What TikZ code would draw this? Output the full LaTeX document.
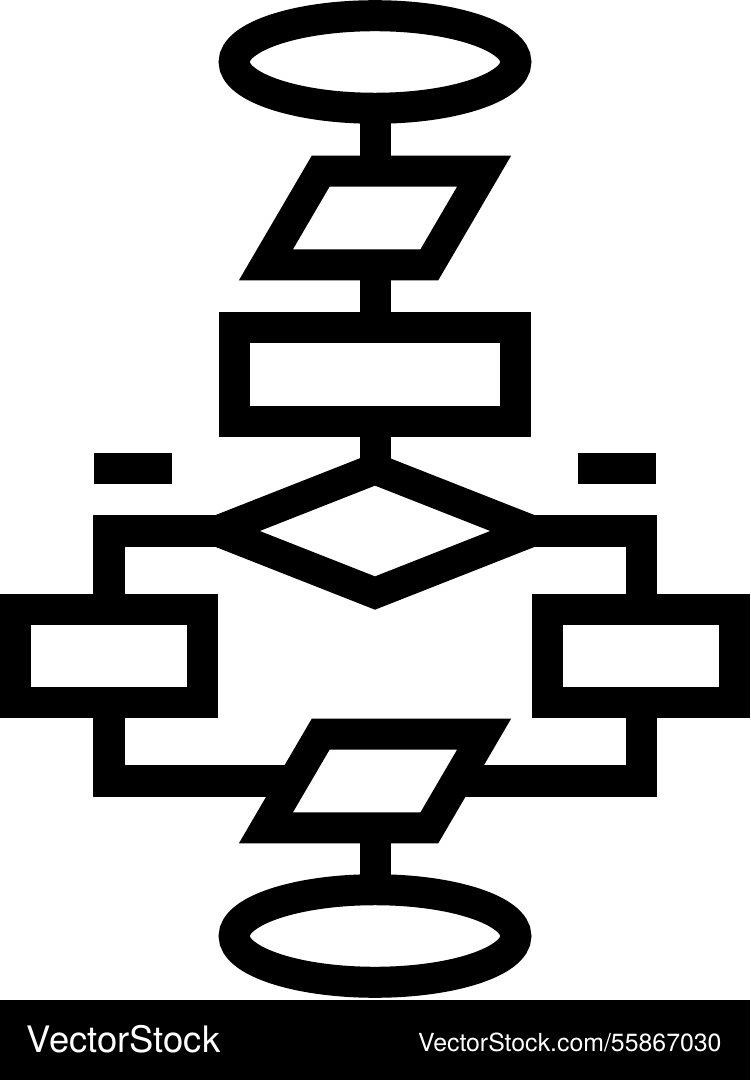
\documentclass[tikz,border=0pt]{standalone}
\usepackage{fontspec}
\newfontfamily\wmfont{TeX Gyre Heros}
\usetikzlibrary{shapes.geometric}

\begin{document}
\begin{tikzpicture}[x=0.01cm, y=-0.01cm, line width=0.31cm,
  every node/.style={inner sep=0pt, outer sep=0pt},
  terminal/.style={draw, ellipse, minimum width=2.815cm, minimum height=0.925cm},
  io/.style={draw, trapezium, trapezium left angle=63.3, trapezium right angle=116.7,
    trapezium stretches=true, inner sep=1pt, minimum width=2.18cm, minimum height=0.935cm},
  process/.style={draw, rectangle, minimum width=2.815cm, minimum height=0.94cm},
  decision/.style={draw, diamond, minimum width=3.15cm, minimum height=1.24cm},
  branch/.style={draw, rectangle, minimum width=1.875cm, minimum height=0.93cm},
  answer/.style={fill, minimum width=0.78cm, minimum height=0.31cm}]
  \useasboundingbox (0,0) rectangle (750,1080);

  \node[terminal] (start) at (375,62) {};
  \node[io] (input) at (375,218) {};
  \node[process] (task) at (375,374.5) {};
  \node[decision] (check) at (375,531) {};
  \node[answer] (markA) at (133,468.5) {};
  \node[answer] (markB) at (617,468.5) {};
  \node[branch] (optA) at (109,656) {};
  \node[branch] (optB) at (641,656) {};
  \node[io] (output) at (375,781) {};
  \node[terminal] (stop) at (375,936) {};

  \draw (start) -- (input);
  \draw (input) -- (task);
  \draw (task) -- (check);
  \draw (check.west) -| (optA.north);
  \draw (check.east) -| (optB.north);
  \draw (optA.south) |- (output.west);
  \draw (optB.south) |- (output.east);
  \draw (output) -- (stop);

  % footer
  \fill (0,1000) rectangle (750,1080);
  \node[text=white, anchor=base west, font=\wmfont\fontsize{10.35pt}{12pt}\selectfont] (brand) at (27,1052) {VectorStock};
  \node[text=white, anchor=base west, font=\wmfont\fontsize{7.07pt}{9pt}\selectfont] (link) at (418,1051) {VectorStock.com/55867030};
\end{tikzpicture}
\end{document}
